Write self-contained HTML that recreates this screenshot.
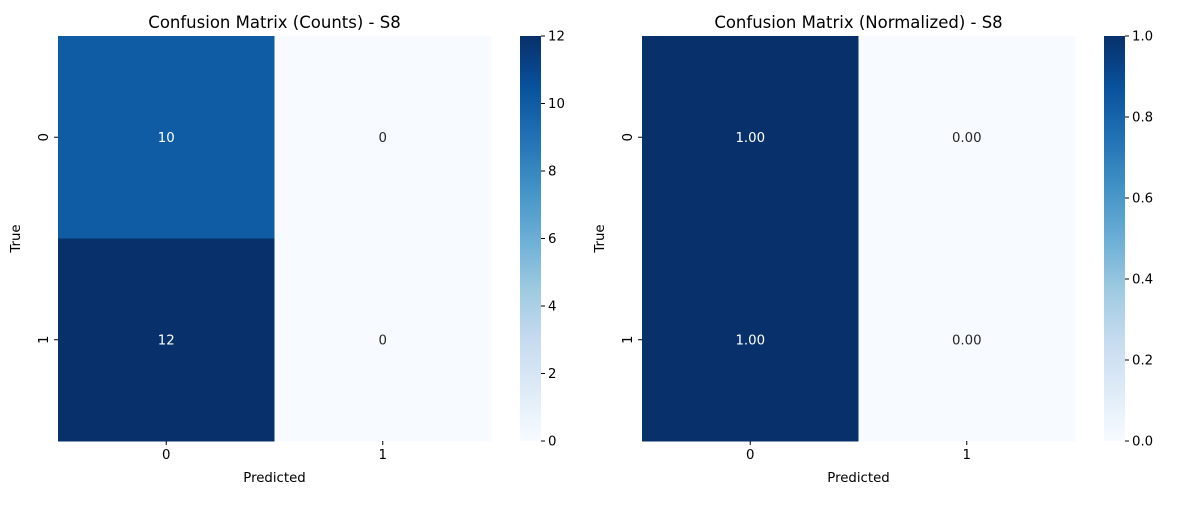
<!DOCTYPE html>
<html><head><meta charset="utf-8"><style>
body{margin:0;background:#fff;width:1200px;height:500px;overflow:hidden}
svg{font-family:"DejaVu Sans","Liberation Sans",sans-serif}
</style></head><body>
<svg id="c" width="1200" height="500"></svg>
<script>
const classLabels = ["0","1"];
const countValues = [[10,0],[12,0]];
const countLabels = ["10","0","12","0"];
const normValues = [[1.0,0.0],[1.0,0.0]];
const normLabels = ["1.00","0.00","1.00","0.00"];
const countTicks = [0,2,4,6,8,10,12];
const normTicks = [0,0.2,0.4,0.6,0.8,1.0];
const countMax = 12;
const normMax = 1.0;

const stops=["#f7fbff","#deebf7","#c6dbef","#9ecae1","#6baed6","#4292c6","#2171b5","#08519c","#08306b"];
function hex(h){return [1,3,5].map(i=>parseInt(h.substr(i,2),16));}
function blues(t){t=Math.max(0,Math.min(1,t));const p=t*8,i=Math.min(7,Math.floor(p)),f=p-i;const a=hex(stops[i]),b=hex(stops[i+1]);return `rgb(${a.map((v,k)=>Math.round(v+(b[k]-v)*f)).join(",")})`;}
const NS="http://www.w3.org/2000/svg",svg=document.getElementById("c");
function el(tag,attrs,parent,text){const e=document.createElementNS(NS,tag);for(const k in attrs)e.setAttribute(k,attrs[k]);if(text!==undefined)e.textContent=text;(parent||svg).appendChild(e);return e;}
const defs=el("defs",{});
const lg=el("linearGradient",{id:"bl",x1:0,y1:1,x2:0,y2:0},defs);
stops.forEach((s,i)=>el("stop",{offset:i/8,"stop-color":s},lg));
const FS=13.3;
function panel(ox,title,vals,labels,vmax,ticks,fmt,key){
  const x0=ox,x1=ox+433,y0=36,y1=441,n=classLabels.length;
  const cw=(x1-x0)/n,ch=(y1-y0)/n;
  const g=el("g",{});
  
  
  const t=el("text",{x:(x0+x1)/2,y:28,"text-anchor":"middle","font-size":16.5},g,title);
  
  
  for(let r=0;r<n;r++)for(let c=0;c<n;c++){
    const v=vals[r][c];
    const rc=el("rect",{x:x0+c*cw,y:y0+r*ch,width:cw+0.5,height:ch+0.5,fill:blues(v/vmax)},g);
    
    
    const tx=el("text",{x:x0+(c+0.5)*cw,y:y0+(r+0.5)*ch+4.5,"text-anchor":"middle","font-size":FS,fill:v/vmax>0.5?"#fff":"#262626"},g,labels[r*n+c]);
    
    
  }
  classLabels.forEach((l,i)=>{
    const cx=x0+(i+0.5)*cw;
    el("line",{x1:cx,x2:cx,y1:y1,y2:y1+4,stroke:"#000"},g);
    const xt=el("text",{x:cx,y:y1+18,"text-anchor":"middle","font-size":FS},g,l);
    
    
    const cy=y0+(i+0.5)*ch;
    el("line",{x1:x0-4,x2:x0,y1:cy,y2:cy,stroke:"#000"},g);
    const yt=el("text",{x:x0-14,y:cy,"text-anchor":"middle","font-size":FS,transform:`rotate(-90 ${x0-14} ${cy})`,"dominant-baseline":"middle"},g,l);
    
    
  });
  const xl=el("text",{x:(x0+x1)/2,y:482,"text-anchor":"middle","font-size":FS},g,"Predicted");
  
  
  const yx=x0-38,yy=(y0+y1)/2;
  const yl=el("text",{x:yx,y:yy,"text-anchor":"middle","font-size":FS,transform:`rotate(-90 ${yx} ${yy})`},g,"True");
  
  
  const bx=x1+29,bw=21;
  const cb=el("rect",{x:bx,y:y0,width:bw,height:y1-y0,fill:"url(#bl)"},g);
  
  
  ticks.forEach(v=>{
    const ty=y1-(v/vmax)*(y1-y0);
    el("line",{x1:bx+bw,x2:bx+bw+4,y1:ty,y2:ty,stroke:"#000"},g);
    const ct=el("text",{x:bx+bw+7,y:ty+4.5,"font-size":FS},g,fmt(v));
    
    
  });
}
panel(58,"Confusion Matrix (Counts) - S8",countValues,countLabels,countMax,countTicks,v=>String(v),"counts");
panel(642,"Confusion Matrix (Normalized) - S8",normValues,normLabels,normMax,normTicks,v=>v.toFixed(1),"normalized");
</script>
</body></html>
